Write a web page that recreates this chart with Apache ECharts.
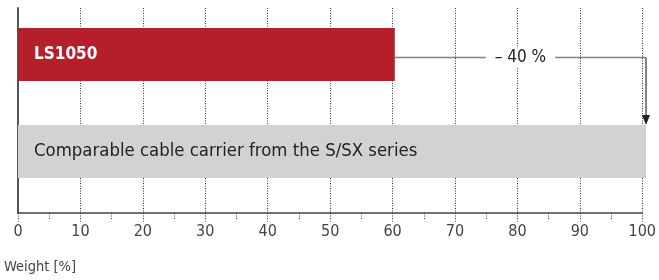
<!DOCTYPE html>
<html>
<head>
<meta charset="utf-8">
<script src="https://cdn.jsdelivr.net/npm/echarts@6/dist/echarts.min.js"></script>
<style>
  html, body { margin: 0; padding: 0; background: #fff; }
  #chart { width: 659px; height: 280px; }
</style>
</head>
<body>
<div id="chart"></div>
<script>
// data
const categories = ['LS1050', 'Comparable cable carrier from the S/SX series']
const weights = [60, 100]
const barColors = ['#b51f2b', '#d2d2d2']
const labelColors = ['#ffffff', '#222222']
const xMin = 0
const xMax = 100
const xStep = 10
const reductionText = '\u2013 40 %'
// annotation: from end of first bar to the second bar, text at 80
const reduction = [[60, 0, 100, 1, 80]]
const axisName = 'Weight [%]'

const FONT = '"Liberation Sans Narrow", "DejaVu Sans Condensed", "Roboto", sans-serif'
const barWidth = 53

const chart = echarts.init(document.getElementById('chart'))

const option = {
    animation: false,
    title: {
        text: axisName,
        left: 4,
        top: 260,
        padding: 0,
        textStyle: {
            fontFamily: FONT,
            fontSize: 14.5,
            fontWeight: 'normal',
            color: '#444'
        }
    },
    grid: [
        // bars
        { left: 18, right: 13, top: 6, height: 194 },
        // axis + dotted grid
        { left: 18, right: 13, top: 8, bottom: 67 }
    ],
    xAxis: [
        {
            gridIndex: 0,
            type: 'value',
            min: xMin,
            max: xMax,
            show: false
        },
        {
            gridIndex: 1,
            type: 'value',
            min: xMin,
            max: xMax,
            interval: xStep,
            axisLine: {
                show: true,
                lineStyle: { color: '#444', width: 1.5 }
            },
            axisTick: {
                show: true,
                length: 9,
                lineStyle: { color: '#333', type: [1, 1.5] }
            },
            minorTick: {
                show: true,
                splitNumber: 2,
                length: 6,
                lineStyle: { color: '#333', type: [1, 1.5] }
            },
            splitLine: {
                show: true,
                lineStyle: { color: '#333', type: [1, 1.5], width: 1 }
            },
            axisLabel: {
                margin: 11,
                fontFamily: FONT,
                fontSize: 16,
                color: '#444'
            }
        }
    ],
    yAxis: [
        {
            gridIndex: 0,
            type: 'category',
            inverse: true,
            data: categories,
            show: false
        },
        {
            gridIndex: 1,
            type: 'value',
            min: 0,
            max: 1,
            axisLine: {
                show: true,
                lineStyle: { color: '#555', width: 2 }
            },
            axisTick: { show: false },
            axisLabel: { show: false },
            splitLine: { show: false }
        }
    ],
    series: [
        {
            type: 'bar',
            xAxisIndex: 0,
            yAxisIndex: 0,
            barWidth: barWidth,
            data: weights.map((v, i) => ({
                value: v,
                itemStyle: { color: barColors[i] },
                label: {
                    color: labelColors[i],
                    fontWeight: i === 0 ? 'bold' : 'normal',
                    fontSize: i === 0 ? 17 : 18.4
                }
            })),
            label: {
                show: true,
                position: 'insideLeft',
                distance: 16,
                fontFamily: FONT,
                formatter: (p) => categories[p.dataIndex]
            }
        },
        {
            type: 'custom',
            xAxisIndex: 0,
            yAxisIndex: 0,
            clip: false,
            z: 5,
            data: reduction,
            renderItem: (params, api) => {
                const start = api.coord([api.value(0), api.value(1)])
                const end = api.coord([api.value(2), api.value(1)])
                const target = api.coord([api.value(2), api.value(3)])
                const mid = api.coord([api.value(4), api.value(1)])
                const y = start[1] + 3
                const tipY = target[1] - barWidth / 2
                return {
                    type: 'group',
                    children: [
                        {
                            type: 'polyline',
                            shape: { points: [[start[0], y], [end[0], y]] },
                            style: { stroke: '#808080', lineWidth: 1.5, fill: null }
                        },
                        {
                            type: 'line',
                            shape: { x1: end[0], y1: y, x2: end[0], y2: tipY - 8 },
                            style: { stroke: '#333', lineWidth: 1.2 }
                        },
                        {
                            type: 'polygon',
                            shape: { points: [[end[0] - 4, tipY - 10], [end[0] + 4, tipY - 10], [end[0], tipY]] },
                            style: { fill: '#222' }
                        },
                        {
                            type: 'text',
                            style: {
                                text: reductionText,
                                x: mid[0],
                                y: y,
                                align: 'center',
                                verticalAlign: 'middle',
                                font: '17px ' + FONT,
                                fill: '#222',
                                backgroundColor: '#fff',
                                padding: [2, 9]
                            }
                        }
                    ]
                }
            }
        }
    ]
}

chart.setOption(option)
</script>
</body>
</html>
